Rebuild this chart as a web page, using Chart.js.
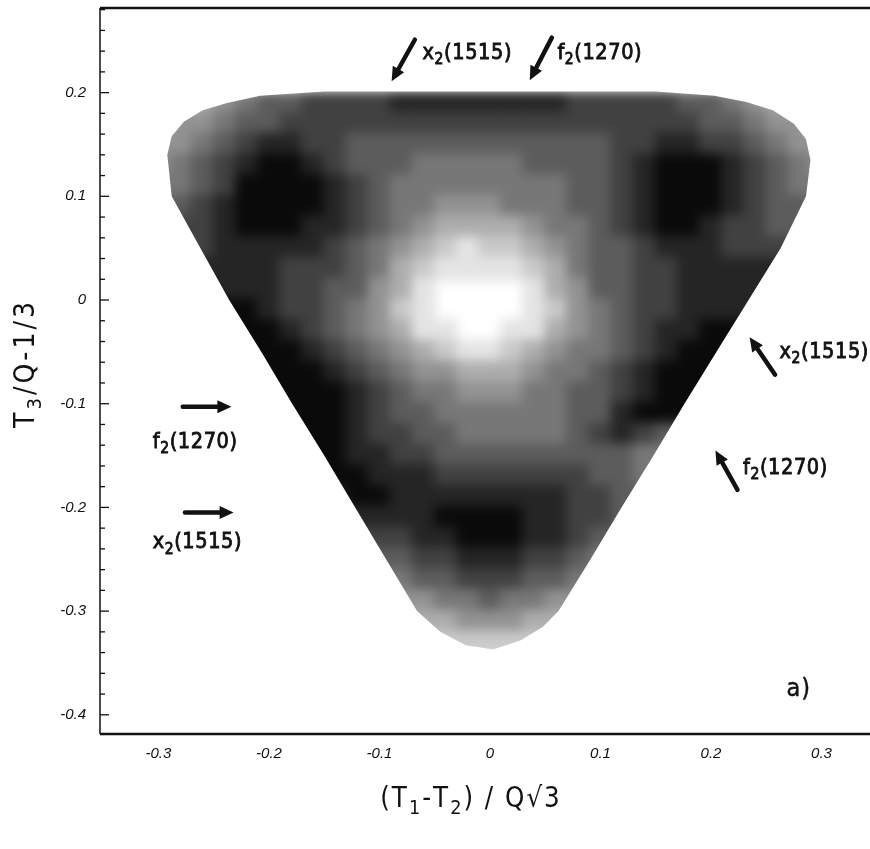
<!DOCTYPE html>
<html><head><meta charset="utf-8">
<script src="https://cdn.jsdelivr.net/npm/chart.js@4.4.1/dist/chart.umd.min.js"></script>
<style>html,body{margin:0;padding:0;background:#fff;}#wrap{width:870px;height:849px;}</style>
</head><body><div id="wrap"><canvas id="c" width="870" height="849"></canvas></div>
<script>
// ---- data ----
const xCenters = [-0.30,-0.28,-0.26,-0.24,-0.22,-0.20,-0.18,-0.16,-0.14,-0.12,-0.10,-0.08,-0.06,-0.04,-0.02,0.00,0.02,0.04,0.06,0.08,0.10,0.12,0.14,0.16,0.18,0.20,0.22,0.24,0.26,0.28,0.30];
const yCenters = [0.19,0.17,0.15,0.13,0.11,0.09,0.07,0.05,0.03,0.01,-0.01,-0.03,-0.05,-0.07,-0.09,-0.11,-0.13,-0.15,-0.17,-0.19,-0.21,-0.23,-0.25,-0.27,-0.29,-0.31,-0.33];
// event density per cell (0 = empty, 9 = saturated black)
const densityRows = [
 [3,3,3,4,5,6,6,7,7,7,7,8,8,8,8,8,8,8,8,7,7,7,7,7,6,6,5,4,3,3,3],
 [3,4,4,5,6,6,7,7,7,7,7,7,7,7,7,7,7,7,7,7,7,7,7,7,7,6,6,5,4,4,3],
 [4,4,5,6,7,8,8,7,7,6,6,6,6,6,6,6,6,6,6,6,6,7,7,8,8,7,7,6,5,4,4],
 [4,5,6,7,8,9,9,8,7,6,6,6,5,5,5,5,5,6,6,6,6,7,8,9,9,9,8,7,6,5,4],
 [5,5,6,7,9,9,9,9,8,7,6,5,5,5,5,5,5,5,5,6,6,7,8,9,9,9,8,7,6,5,5],
 [5,6,7,8,9,9,9,9,8,7,6,5,5,4,4,4,5,5,5,6,6,7,8,9,9,9,8,7,6,6,5],
 [6,7,7,8,9,9,9,8,8,7,6,5,4,3,3,3,3,4,5,5,6,7,8,9,9,8,7,7,6,6,6],
 [7,7,7,8,8,8,8,8,7,6,5,4,3,2,1,2,2,3,4,5,6,6,7,8,8,8,7,7,7,7,7],
 [7,7,8,8,8,8,7,7,7,6,5,3,2,1,1,1,1,2,3,5,6,6,7,7,8,8,8,8,8,8,8],
 [8,8,8,8,8,8,7,7,6,6,4,3,1,0,0,0,0,1,3,4,6,6,7,7,8,8,8,8,8,8,8],
 [9,9,9,9,9,8,7,7,6,5,4,2,1,0,0,0,0,1,2,4,5,6,7,7,8,8,8,8,8,8,8],
 [9,9,9,9,9,9,8,7,6,5,4,3,1,1,0,0,1,1,3,4,5,6,7,8,8,9,9,9,9,9,9],
 [9,9,9,9,9,9,9,8,7,6,5,4,3,2,1,1,2,3,4,5,5,6,7,8,9,9,9,9,9,9,9],
 [0,9,9,9,9,9,9,9,8,7,6,5,4,4,3,3,3,4,5,5,6,7,8,9,9,9,9,9,9,0,0],
 [0,0,9,9,9,9,9,9,9,8,7,6,5,5,4,4,4,5,5,6,6,7,8,9,9,9,9,9,0,0,0],
 [0,0,9,9,9,9,9,9,9,8,7,6,6,5,5,5,5,5,5,6,6,8,9,9,9,9,9,9,0,0,0],
 [0,0,0,9,9,9,9,9,9,8,7,7,6,6,5,5,5,5,5,6,7,8,7,6,6,6,6,0,0,0,0],
 [0,0,0,0,9,9,9,9,9,8,8,7,7,6,6,6,6,6,6,6,6,6,5,5,5,5,0,0,0,0,0],
 [0,0,0,0,9,9,9,9,9,9,8,8,8,7,7,7,7,7,7,7,6,6,5,5,5,0,0,0,0,0,0],
 [0,0,0,0,0,8,8,8,8,9,9,8,8,8,8,8,8,8,8,7,7,6,6,6,6,0,0,0,0,0,0],
 [0,0,0,0,0,0,8,8,8,8,8,8,8,9,9,9,9,8,8,7,7,6,6,6,0,0,0,0,0,0,0],
 [0,0,0,0,0,0,7,7,7,7,7,7,8,8,9,9,9,8,8,7,6,6,6,0,0,0,0,0,0,0,0],
 [0,0,0,0,0,0,0,6,6,6,6,6,7,7,8,8,8,7,7,6,5,5,5,0,0,0,0,0,0,0,0],
 [0,0,0,0,0,0,0,0,5,5,5,5,6,6,7,7,7,6,6,5,5,5,0,0,0,0,0,0,0,0,0],
 [0,0,0,0,0,0,0,0,0,4,4,4,4,5,5,6,5,5,4,4,4,4,0,0,0,0,0,0,0,0,0],
 [0,0,0,0,0,0,0,0,0,0,3,3,3,3,4,4,4,3,3,3,3,0,0,0,0,0,0,0,0,0,0],
 [0,0,0,0,0,0,0,0,0,0,0,2,2,2,2,2,2,2,2,2,0,0,0,0,0,0,0,0,0,0,0]
];
// kinematic boundary of the plot (x, y pairs)
const boundaryX = [-0.150,-0.208,-0.238,-0.260,-0.277,-0.288,-0.292,-0.288,-0.262,-0.236,-0.207,-0.179,-0.150,-0.122,-0.094,-0.066,-0.045,-0.022,0.003,0.028,0.048,0.062,0.091,0.119,0.148,0.176,0.205,0.234,0.263,0.286,0.290,0.286,0.275,0.256,0.232,0.203,0.150];
const boundaryY = [0.201,0.197,0.190,0.183,0.172,0.158,0.140,0.100,0.050,0.000,-0.050,-0.100,-0.150,-0.200,-0.250,-0.300,-0.320,-0.333,-0.337,-0.328,-0.315,-0.300,-0.250,-0.200,-0.150,-0.100,-0.050,0.000,0.050,0.100,0.135,0.155,0.170,0.183,0.191,0.197,0.201];
const xTicks = [-0.3,-0.2,-0.1,0,0.1,0.2,0.3];
const yTicks = [0.2,0.1,0,-0.1,-0.2,-0.3,-0.4];
const yMinorTicks = [0.28,0.26,0.24,0.22,0.18,0.16,0.14,0.12,0.08,0.06,0.04,0.02,-0.02,-0.04,-0.06,-0.08,-0.12,-0.14,-0.16,-0.18,-0.22,-0.24,-0.26,-0.28,-0.32,-0.34,-0.36,-0.38];
const resonanceLabels = [
  {parts:[['x'],['2',1],['(1515)']], tail:[-0.068,0.251], tip:[-0.089,0.211], at:[-0.061,0.238], align:'left'},
  {parts:[['f'],['2',1],['(1270)']], tail:[0.056,0.253], tip:[0.036,0.212], at:[0.061,0.238], align:'left'},
  {parts:[['x'],['2',1],['(1515)']], tail:[0.258,-0.072], tip:[0.235,-0.036], at:[0.262,-0.050], align:'left'},
  {parts:[['f'],['2',1],['(1270)']], tail:[0.224,-0.183], tip:[0.204,-0.145], at:[0.229,-0.162], align:'left'},
  {parts:[['f'],['2',1],['(1270)']], tail:[-0.278,-0.103], tip:[-0.234,-0.103], at:[-0.267,-0.137], align:'center'},
  {parts:[['x'],['2',1],['(1515)']], tail:[-0.276,-0.205], tip:[-0.232,-0.205], at:[-0.265,-0.234], align:'center'}
];
const panelLabel = 'a)';
const xTitleParts = [['('],['T'],['1',1],['-'],['T'],['2',1],[')'],[' '],['/'],[' '],['Q'],['\u221A'],['3']];
const yTitleParts = [['T'],['3',1],['/'],['Q'],['-'],['1'],['/'],['3']];

// ---- drawing helpers ----
const FONT = '"DejaVu Sans", "Liberation Sans", sans-serif';
const INK = '#111';
function shade(v){ const g = Math.round(255*(1 - v/9*0.96)); return `rgb(${g},${g},${g})`; }

function richText(ctx, parts, x, y, size, align, sx, spacing, bold){
  const sub = size*0.72;
  const items = [];
  let total = 0;
  parts.forEach(p => {
    const isSub = !!p[1];
    const f = `${isSub?sub:size}px ${FONT}`;
    ctx.font = f;
    for (const ch of p[0]) {
      const w = ctx.measureText(ch).width*sx;
      items.push({ch, f, w, dy: isSub ? size*0.32 : 0});
      total += w + spacing;
    }
  });
  total -= spacing;
  let cx = align==='center' ? x - total/2 : x;
  ctx.textBaseline = 'middle';
  ctx.textAlign = 'left';
  items.forEach(it => {
    ctx.font = it.f;
    ctx.save();
    ctx.translate(cx, y + it.dy);
    ctx.scale(sx, 1);
    ctx.fillText(it.ch, 0, 0);
    if (bold) { ctx.lineWidth = bold; ctx.strokeText(it.ch, 0, 0); }
    ctx.restore();
    cx += it.w + spacing;
  });
}

function arrow(ctx, x0, y0, x1, y1){
  const ang = Math.atan2(y1-y0, x1-x0);
  const hl = 14, hw = 6.5;
  const bx = x1 - hl*Math.cos(ang), by = y1 - hl*Math.sin(ang);
  ctx.lineWidth = 4.5; ctx.lineCap = 'round';
  ctx.beginPath(); ctx.moveTo(x0,y0); ctx.lineTo(bx,by); ctx.stroke();
  ctx.beginPath();
  ctx.moveTo(x1,y1);
  ctx.lineTo(bx + hw*Math.sin(ang), by - hw*Math.cos(ang));
  ctx.lineTo(bx - hw*Math.sin(ang), by + hw*Math.cos(ang));
  ctx.closePath(); ctx.fill();
}

// ---- build dataset from the grid ----
const cells = [];
densityRows.forEach((row, r) => row.forEach((v, c) => {
  if (v > 0) cells.push({x: xCenters[c], y: yCenters[r], v});
}));

const densityPlugin = {
  id: 'densitySmooth',
  afterDatasetsDraw(chart){
    const {ctx, canvas, chartArea:a, scales:{x, y}} = chart;
    const off = document.createElement('canvas');
    off.width = canvas.width; off.height = canvas.height;
    off.getContext('2d').drawImage(canvas, 0, 0);
    ctx.save();
    ctx.fillStyle = '#fff';
    ctx.fillRect(a.left, a.top, a.right-a.left, a.bottom-a.top);
    ctx.beginPath();
    boundaryX.forEach((bx, i) => {
      const px = x.getPixelForValue(bx), py = y.getPixelForValue(boundaryY[i]);
      if (i) ctx.lineTo(px, py); else ctx.moveTo(px, py);
    });
    ctx.closePath();
    ctx.clip();
    ctx.filter = 'blur(6px)';
    ctx.drawImage(off, 0, 0);
    ctx.restore();
  }
};

const framePlugin = {
  id: 'frame',
  afterDraw(chart){
    const {ctx, chartArea:a, scales:{x, y}} = chart;
    ctx.save();
    ctx.strokeStyle = INK; ctx.fillStyle = INK;
    // axis frame
    ctx.lineWidth = 1.5;
    ctx.beginPath(); ctx.moveTo(a.left, a.top); ctx.lineTo(a.left, a.bottom); ctx.stroke();
    ctx.lineWidth = 2.5;
    ctx.beginPath(); ctx.moveTo(a.left, a.top); ctx.lineTo(a.right, a.top); ctx.stroke();
    ctx.beginPath(); ctx.moveTo(a.left, a.bottom); ctx.lineTo(a.right, a.bottom); ctx.stroke();
    // inward y ticks
    ctx.lineWidth = 1.3;
    yTicks.forEach(v => { const py = y.getPixelForValue(v); ctx.beginPath(); ctx.moveTo(a.left, py); ctx.lineTo(a.left+9, py); ctx.stroke(); });
    yMinorTicks.forEach(v => { const py = y.getPixelForValue(v); ctx.beginPath(); ctx.moveTo(a.left, py); ctx.lineTo(a.left+5, py); ctx.stroke(); });
    // resonance arrows and labels
    resonanceLabels.forEach(l => {
      arrow(ctx, x.getPixelForValue(l.tail[0]), y.getPixelForValue(l.tail[1]), x.getPixelForValue(l.tip[0]), y.getPixelForValue(l.tip[1]));
      richText(ctx, l.parts, x.getPixelForValue(l.at[0]), y.getPixelForValue(l.at[1]), 22, l.align, 0.88, 0.6, 0.9);
    });
    // panel label
    richText(ctx, [[panelLabel]], x.getPixelForValue(0.279), y.getPixelForValue(-0.376), 25, 'center', 0.9, 1, 0.5);
    // axis titles
    richText(ctx, xTitleParts, (a.left+a.right)/2 - 15, 800, 28, 'center', 0.88, 2, 0);
    ctx.translate(27, 365);
    ctx.rotate(-Math.PI/2);
    richText(ctx, yTitleParts, 0, 0, 28, 'center', 0.9, 3, 0);
    ctx.restore();
  }
};

const fmt = v => { const r = Math.round(v*10)/10; return r === 0 ? '0' : r.toFixed(1); };
const zeroPad = s => { s.paddingLeft = 0; s.paddingRight = 0; s.paddingTop = 0; s.paddingBottom = 0; };

new Chart(document.getElementById('c'), {
  type: 'scatter',
  data: { datasets: [{
    data: cells,
    pointStyle: 'rect',
    pointRadius: 17,
    pointHoverRadius: 17,
    borderWidth: 0,
    backgroundColor: c => c.raw ? shade(c.raw.v) : '#000'
  }]},
  options: {
    responsive: false,
    devicePixelRatio: 1,
    animation: false,
    events: [],
    layout: { autoPadding: false, padding: { top: 8, right: 0, left: 0, bottom: 0 } },
    plugins: { legend: { display: false }, tooltip: { enabled: false } },
    scales: {
      x: {
        type: 'linear', min: -0.3529, max: 0.3439,
        afterBuildTicks: s => { s.ticks = xTicks.map(v => ({value: v})); },
        afterFit: s => { s.height = 115; zeroPad(s); },
        grid: { display: false, drawTicks: false },
        border: { display: false },
        ticks: { padding: 11, color: INK, font: { family: '"Liberation Sans", Arial, sans-serif', size: 15, style: 'italic' }, callback: v => fmt(v), maxRotation: 0 }
      },
      y: {
        type: 'linear', min: -0.4185, max: 0.2816,
        afterBuildTicks: s => { s.ticks = yTicks.map(v => ({value: v})); },
        afterFit: s => { s.width = 100; zeroPad(s); },
        grid: { display: false, drawTicks: false },
        border: { display: false },
        ticks: { padding: 14, color: INK, font: { family: '"Liberation Sans", Arial, sans-serif', size: 15, style: 'italic' }, callback: v => fmt(v) }
      }
    }
  },
  plugins: [densityPlugin, framePlugin]
});
</script>
</body></html>
